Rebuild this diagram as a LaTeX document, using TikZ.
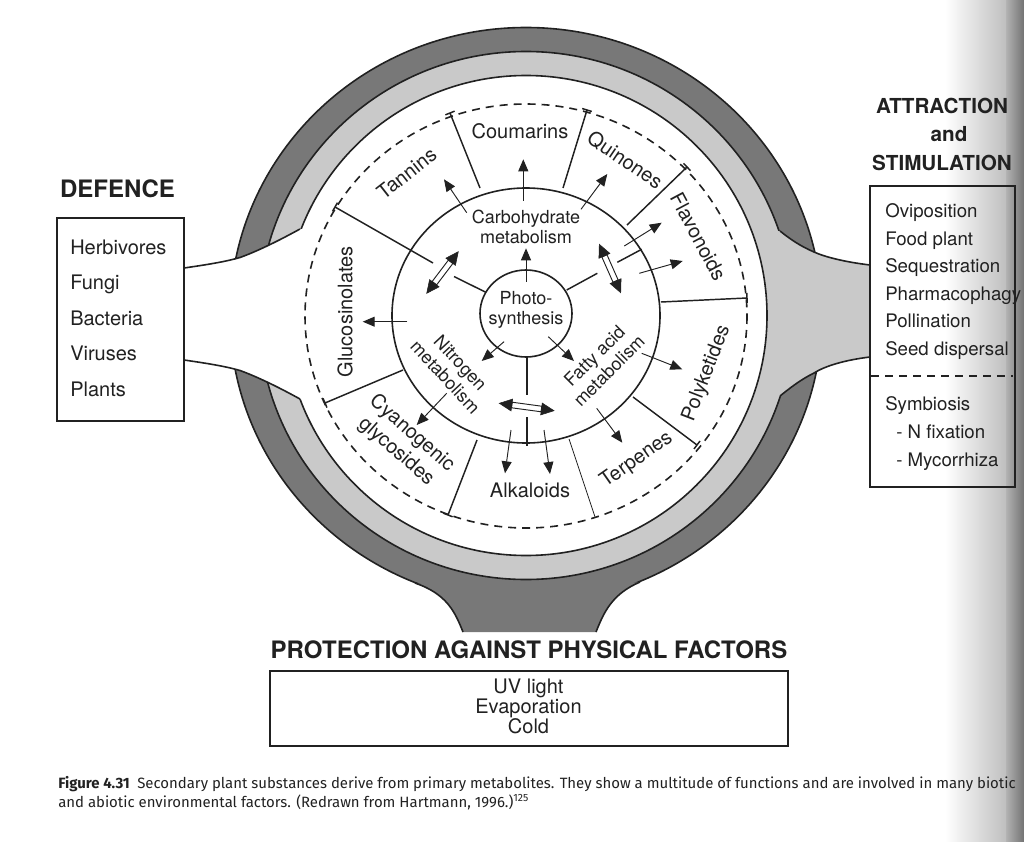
\documentclass[tikz,border=0pt]{standalone}
\usepackage{fontspec}
\setmainfont{TeX Gyre Heros}
\newfontfamily\captionfont{Fira Sans}
\usetikzlibrary{arrows.meta, calc}
\definecolor{ink}{gray}{0.13}
\definecolor{bandDark}{gray}{0.47}
\definecolor{bandLight}{gray}{0.79}

\begin{document}
\begin{tikzpicture}[
    x=0.75pt, y=-0.75pt,
    outline/.style={draw=ink, line width=1.2pt},
    divider/.style={ink, line width=1.1pt},
    flow/.style={ink, line width=0.7pt, -{Triangle[length=9pt, width=7.5pt]}},
    xhead/.style={fill=ink, draw=ink, line width=0.4pt},
    xshaft/.style={fill=white, draw=ink, line width=0.7pt},
    substance/.style={text=ink, font=\fontsize{15}{18}\selectfont, inner sep=0pt, align=center},
    pathway/.style={text=ink, font=\fontsize{13.5}{15.5}\selectfont, inner sep=0pt, align=center},
    heading/.style={text=ink, font=\bfseries\fontsize{18}{18}\selectfont, inner sep=0pt, anchor=base},
    item/.style={text=ink, font=\fontsize{15}{15}\selectfont, inner sep=0pt, anchor=base west},
    box/.style={draw=ink, line width=1pt}
]
\useasboundingbox (0,0) rectangle (1024,842);

% page edge of the scan
\shade[left color=white, right color=black!25] (945,0) rectangle (1006,842);
\shade[left color=black!30, right color=black!55] (1006,0) rectangle (1024,842);

% =========================
% Outer ring
% =========================
\coordinate (C) at (526,315.5);
\filldraw[outline, fill=bandDark]  (C) ellipse [x radius=296, y radius=288];
\filldraw[outline, fill=bandLight] (C) ellipse [x radius=267, y radius=264];
\filldraw[outline, fill=white]     (C) ellipse [x radius=241, y radius=240];

% stem to the defence box (white)
\fill[white] (184,268) .. controls (212,264) and (228,261) .. (240,257.5)
    .. controls (258,251) and (280,240) .. (300,229) -- (322,229) -- (322,399) -- (300,399)
    .. controls (280,388) and (258,377) .. (240,370.5)
    .. controls (228,367) and (212,364) .. (184,360) -- cycle;
\draw[outline] (184,268) .. controls (212,264) and (228,261) .. (240,257.5)
    .. controls (258,251) and (280,240) .. (300,229);
\draw[outline] (184,360) .. controls (212,364) and (228,367) .. (240,370.5)
    .. controls (258,377) and (280,388) .. (300,399);

% stem to the attraction box (light)
\fill[bandLight] (870,265) .. controls (845,262) and (825,257) .. (814,252)
    .. controls (800,246) and (790,239) .. (780,231) -- (772,231) -- (772,396) -- (780,396)
    .. controls (790,388) and (800,380) .. (814,373)
    .. controls (825,366) and (845,360) .. (870,357) -- cycle;
\draw[outline] (870,265) .. controls (845,262) and (825,257) .. (814,252)
    .. controls (800,246) and (790,239) .. (780,231);
\draw[outline] (870,357) .. controls (845,360) and (825,366) .. (814,373)
    .. controls (800,380) and (790,388) .. (780,396);

% stem to the protection box (dark)
\fill[bandDark] (463,632) .. controls (455,612) and (447,594) .. (415,583) -- (526,592)
    -- (640,582) .. controls (612,594) and (604,612) .. (596,632) -- cycle;
\draw[outline] (463,632) .. controls (455,612) and (447,594) .. (415,583);
\draw[outline] (596,632) .. controls (604,612) and (612,594) .. (640,582);

% =========================
% Circles
% =========================
\draw[ink, line width=1.2pt, dash pattern=on 6pt off 4.5pt] (526,316) ellipse [x radius=221, y radius=212];
\draw[outline] (C) ellipse [x radius=134, y radius=127.5];
\draw[outline] (526,313.5) ellipse [x radius=46, y radius=43.5];

% segment borders with end ticks
\foreach \s/\e in {{480,188}/{450,113}, {563,188}/{587,110}, {627,225}/{687,167},
    {661,302}/{747,298}, {633,397}/{697,445}, {477,440}/{448,515},
    {403,370}/{325,403}, {433,263}/{335,207}}
{
    \draw[divider] (\s) -- (\e) ($(\e)!3.75pt!90:(\s)$) -- ($(\e)!3.75pt!-90:(\s)$);
}
\draw[ink, line width=0.6pt] (569,439) -- (595,517);

% borders between the pathways
\draw[divider] (485.8,292.3) -- (454,276.5);
\draw[divider] (566.7,290) -- (597.3,273.3) (617.3,262.3) -- (641.7,249.3);
\draw[divider] (527,357) -- (527,395) (527,417.3) -- (527,446);

% =========================
% Arrows
% =========================
\foreach \s/\e in {{526,281.7}/{526,248.3}, {504,341.7}/{481.7,361}, {548.3,336.7}/{574,361},
    {466.7,212.7}/{444,179.3}, {523.3,200.7}/{523.3,159.3}, {581,209.3}/{607.3,174},
    {624.3,246}/{661.7,222.7}, {639.3,273.3}/{682.7,261}, {641.7,353.3}/{682.3,369.3},
    {596.7,408.3}/{622.3,442.7}, {511,430}/{505,473.3}, {544,430}/{550,474},
    {446.7,393.3}/{416.7,425}, {407.3,321.7}/{362.7,321.7}}
{
    \draw[flow] (\s) -- (\e);
}

% exchange between pathways (hollow double arrows)
\foreach \p/\q in {{426.7,293.3}/{458.3,251.7}, {599.3,244.3}/{620.7,292.7}, {499.3,403.3}/{554,410.7}}
{
    \coordinate (xa) at (\p);
    \coordinate (xb) at (\q);
    \coordinate (ha) at ($(xa)!9.5pt!(xb)$);
    \coordinate (hb) at ($(xb)!9.5pt!(xa)$);
    \filldraw[xshaft] ($(ha)!2.1pt!90:(xb)$) -- ($(hb)!2.1pt!-90:(xa)$)
        -- ($(hb)!2.1pt!90:(xa)$) -- ($(ha)!2.1pt!-90:(xb)$) -- cycle;
    \filldraw[xhead] (xa) -- ($(ha)!4.5pt!90:(xb)$) -- ($(ha)!4.5pt!-90:(xb)$) -- cycle;
    \filldraw[xhead] (xb) -- ($(hb)!4.5pt!90:(xa)$) -- ($(hb)!4.5pt!-90:(xa)$) -- cycle;
}

% =========================
% Labels
% =========================
\node[substance] (coumarins) at (520,131.7) {Coumarins};
\node[substance, rotate=38] (tannins) at (406.7,173.3) {Tannins};
\node[substance, rotate=-34] (quinones) at (625,160) {Quinones};
\node[substance, rotate=-62] (flavonoids) at (698.3,236.7) {Flavonoids};
\node[substance, rotate=69] (polyketides) at (706.7,373.3) {Polyketides};
\node[substance, rotate=35] (terpenes) at (636.7,460) {Terpenes};
\node[substance] (alkaloids) at (530,490.7) {Alkaloids};
\node[substance, rotate=-41] (cyanogenic) at (404,442.5) {Cyanogenic\\glycosides};
\node[substance, rotate=90] (glucosinolates) at (345,311.7) {Glucosinolates};

\node[pathway] (carbohydrate) at (526,227) {Carbohydrate\\metabolism};
\node[pathway] (photosynthesis) at (526,310) {Photo-\\synthesis};
\node[pathway, rotate=-47] (nitrogen) at (453,370) {Nitrogen\\metabolism};
\node[pathway, rotate=45] (fattyacid) at (601.7,363.3) {Fatty acid\\metabolism};

% =========================
% Boxes
% =========================
\node[heading] (defence) at (117.5,197.3) {DEFENCE};
\draw[box] (57,218) rectangle (184,421);
\foreach \t [count=\i] in {Herbivores, Fungi, Bacteria, Viruses, Plants}
{
    \node[item] (def\i) at (70,{254+35.5*(\i-1)}) {\t};
}

\node[heading, font=\bfseries\fontsize{15.5}{15.5}\selectfont] (attraction) at (942,113.3) {ATTRACTION};
\node[heading, font=\bfseries\fontsize{15.5}{15.5}\selectfont] (and) at (949,141.7) {and};
\node[heading, font=\bfseries\fontsize{15.5}{15.5}\selectfont] (stimulation) at (942,170.7) {STIMULATION};
\draw[box] (870,186) rectangle (1015,487);
\foreach \t [count=\i] in {Oviposition, Food plant, Sequestration, Pharmacophagy, Pollination, Seed dispersal}
{
    \node[item, font=\fontsize{14}{14}\selectfont] (attr\i) at (885,{217.5+27.6*(\i-1)}) {\t};
}
\draw[ink, line width=1pt, dash pattern=on 6pt off 4.5pt] (871,376) -- (1013,376);
\node[item, font=\fontsize{14}{14}\selectfont] (symbiosis) at (885,410.7) {Symbiosis};
\node[item, font=\fontsize{14}{14}\selectfont] (nfix) at (896,438.3) {- N fixation};
\node[item, font=\fontsize{14}{14}\selectfont] (mycorrhiza) at (896,466.7) {- Mycorrhiza};

\node[heading] (protection) at (529,658.3) {PROTECTION AGAINST PHYSICAL FACTORS};
\draw[box] (270,671) rectangle (788,746);
\node[substance, anchor=north, font=\fontsize{15}{15}\selectfont] (physical) at (528.5,678.5) {UV light\\Evaporation\\Cold};

% caption
\node[anchor=base west, inner sep=0pt, text=ink, font=\captionfont\fontsize{11.2}{14}\selectfont] (caption1) at (58,788)
    {\textbf{Figure 4.31}\enspace Secondary plant substances derive from primary metabolites. They show a multitude of functions and are involved in many biotic};
\node[anchor=base west, inner sep=0pt, text=ink, font=\captionfont\fontsize{11.2}{14}\selectfont] (caption2) at (58,807)
    {and abiotic environmental factors. (Redrawn from Hartmann, 1996.)\textsuperscript{125}};

\end{tikzpicture}
\end{document}
